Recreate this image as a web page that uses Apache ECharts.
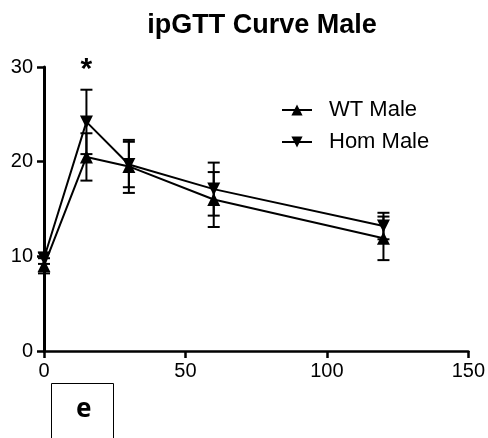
<!DOCTYPE html>
<html>
<head>
<meta charset="utf-8">
<script src="https://cdn.jsdelivr.net/npm/echarts@6/dist/echarts.min.js"></script>
<style>
  html, body { margin: 0; padding: 0; background: #fff; }
  #main { width: 488px; height: 438px; }
</style>
</head>
<body>
<div id="main"></div>
<script>
// time (min) after glucose injection
var timePoints = [0, 15, 30, 60, 120];
// WT Male mean and SEM
var wtMean = [9.0, 20.5, 19.5, 16.0, 11.9];
var wtErr = [0.8, 2.5, 2.8, 2.9, 2.3];
// Hom Male mean and SEM
var homMean = [9.8, 24.2, 19.7, 17.1, 13.2];
var homErr = [0.6, 3.4, 2.4, 2.8, 1.4];

var font = "Liberation Sans, Arial, sans-serif";

function pairs(xs, ys) {
  return xs.map(function (x, i) { return [x, ys[i]]; });
}
function errData(xs, ys, es) {
  return xs.map(function (x, i) { return [x, ys[i] - es[i], ys[i] + es[i]]; });
}

// draw error bar with caps
function renderErr(params, api) {
  var lo = api.coord([api.value(0), api.value(1)]);
  var hi = api.coord([api.value(0), api.value(2)]);
  var half = 6;
  var st = { stroke: "#000", lineWidth: 2 };
  return {
    type: "group",
    children: [
      { type: "line", shape: { x1: lo[0], y1: lo[1], x2: hi[0], y2: hi[1] }, style: st },
      { type: "line", shape: { x1: lo[0] - half, y1: lo[1], x2: lo[0] + half, y2: lo[1] }, style: st },
      { type: "line", shape: { x1: hi[0] - half, y1: hi[1], x2: hi[0] + half, y2: hi[1] }, style: st }
    ]
  };
}

var myChart = echarts.init(document.getElementById("main"));
myChart.setOption({
  animation: false,
  backgroundColor: "#fff",
  title: {
    text: "ipGTT Curve Male",
    left: 257,
    textAlign: "center",
    top: 7,
    textStyle: { fontFamily: font, fontSize: 27, fontWeight: "bold", color: "#000" }
  },
  legend: {
    left: 281,
    top: 99,
    padding: 0,
    orient: "vertical",
    itemWidth: 30,
    itemHeight: 14,
    itemGap: 10,
    textStyle: { fontFamily: font, fontSize: 22, color: "#000", padding: [0, 0, 0, 12] },
    data: ["WT Male", "Hom Male"]
  },
  grid: { left: 44, right: 17, top: 67, bottom: 87 },
  xAxis: {
    type: "value",
    min: 0,
    max: 150,
    interval: 50,
    splitLine: { show: false },
    axisLine: { lineStyle: { color: "#000", width: 2.5 } },
    axisTick: { length: 7, lineStyle: { color: "#000", width: 2.5 } },
    axisLabel: { fontFamily: font, fontSize: 20, color: "#000", margin: 10 }
  },
  yAxis: {
    type: "value",
    min: 0,
    max: 30,
    interval: 10,
    splitLine: { show: false },
    axisLine: { show: true, lineStyle: { color: "#000", width: 3 } },
    axisTick: { show: true, length: 7, lineStyle: { color: "#000", width: 2.5 } },
    axisLabel: { fontFamily: font, fontSize: 20, color: "#000", margin: 11 }
  },
  series: [
    {
      name: "WT Male",
      type: "line",
      data: pairs(timePoints, wtMean),
      symbol: "triangle",
      symbolSize: 13,
      itemStyle: { color: "#000" },
      lineStyle: { color: "#000", width: 2 },
      z: 3
    },
    {
      name: "Hom Male",
      type: "line",
      data: pairs(timePoints, homMean),
      symbol: "triangle",
      symbolRotate: 180,
      symbolSize: 13,
      itemStyle: { color: "#000" },
      lineStyle: { color: "#000", width: 2 },
      z: 3,
      markPoint: {
        symbol: "circle",
        symbolSize: 1,
        itemStyle: { color: "rgba(0,0,0,0)" },
        label: {
          show: true,
          position: "inside",
          formatter: "*",
          fontFamily: font,
          fontSize: 30,
          fontWeight: "bold",
          color: "#000",
          offset: [0, -7]
        },
        data: [{ coord: [15, 29] }]
      }
    },
    {
      name: "WT err",
      type: "custom",
      renderItem: renderErr,
      data: errData(timePoints, wtMean, wtErr),
      z: 2
    },
    {
      name: "Hom err",
      type: "custom",
      renderItem: renderErr,
      data: errData(timePoints, homMean, homErr),
      z: 2
    }
  ],
  graphic: [
    {
      type: "rect",
      left: 51,
      top: 383,
      shape: { width: 62, height: 70 },
      style: { fill: "#fff", stroke: "#000", lineWidth: 1 }
    },
    {
      type: "text",
      left: 76,
      top: 397,
      style: { text: "e", fontFamily: "Noto Sans, sans-serif", fontSize: 26, fontWeight: "bold", fill: "#000" }
    }
  ]
});
</script>
</body>
</html>
